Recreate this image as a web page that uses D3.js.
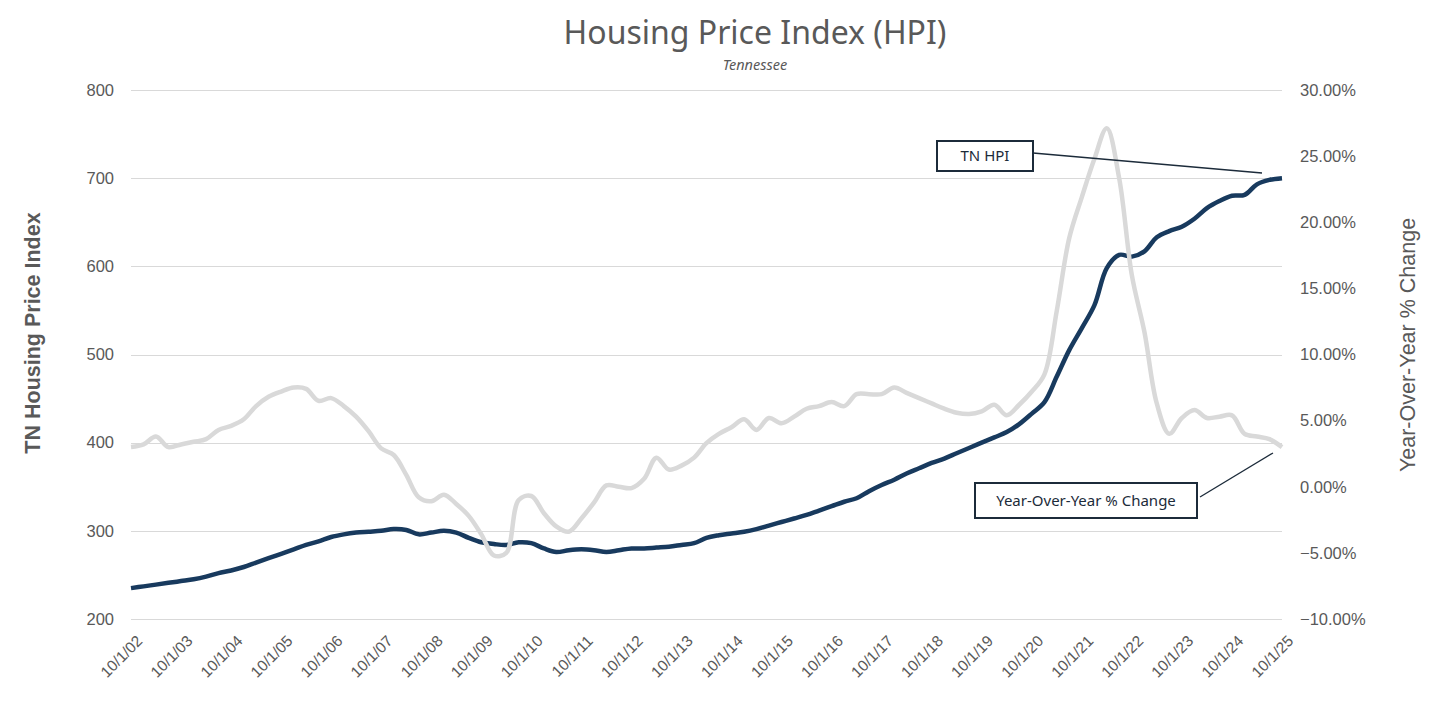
<!DOCTYPE html>
<html>
<head>
<meta charset="utf-8">
<script src="https://cdn.jsdelivr.net/npm/d3@7"></script>
<style>
  body { margin: 0; background: #fff; }
  svg { display: block; }
  .tick-label { font-family: "Liberation Sans", Arial, sans-serif; font-size: 16.5px; fill: #595959; }
  .x-label { font-family: "Liberation Sans", Arial, sans-serif; font-size: 15.5px; fill: #595959; }
</style>
</head>
<body>
<div id="chart"></div>
<script>
// Quarterly observations, first one is 10/1/02, last one is 10/1/25
const firstQuarter = new Date(2002, 9, 1);
const lastQuarter = new Date(2025, 9, 1);

// TN Housing Price Index (left axis)
const hpi = [
  235, 237, 239, 241, 243, 245, 248, 252, 255, 259, 264, 269,
  274, 279, 284, 288, 293, 296, 298, 299, 300, 302, 301, 296,
  298, 300, 298, 292, 287, 285, 284, 287, 286, 280, 276, 278,
  279, 278, 276, 278, 280, 280, 281, 282, 284, 286, 292, 295,
  297, 299, 302, 306, 310, 314, 318, 323, 328, 333, 337, 345,
  352, 358, 365, 371, 377, 382, 388, 394, 400, 406, 412, 421,
  433, 446, 475, 505, 530, 556, 598, 613, 611, 617, 633, 640,
  645, 654, 666, 674, 680, 681, 693, 698, 700
];

// Year-over-year % change (right axis)
const yoy = [
  3.0, 3.2, 3.8, 3.0, 3.2, 3.4, 3.6, 4.3, 4.6, 5.1, 6.1, 6.8,
  7.2, 7.5, 7.4, 6.5, 6.7, 6.1, 5.3, 4.2, 2.9, 2.4, 0.9, -0.8,
  -1.1, -0.6, -1.3, -2.2, -3.6, -5.2, -5.0, -1.0, -0.7, -2.0, -3.0, -3.4,
  -2.4, -1.2, 0.1, 0.0, -0.1, 0.6, 2.2, 1.3, 1.6, 2.2, 3.3, 4.0,
  4.5, 5.1, 4.3, 5.2, 4.8, 5.3, 5.9, 6.1, 6.4, 6.1, 7.0, 7.0,
  7.0, 7.5, 7.1, 6.7, 6.3, 5.9, 5.6, 5.5, 5.7, 6.2, 5.4, 6.2,
  7.2, 8.5, 13.3, 18.8, 21.9, 24.8, 27.1, 23.3, 16.0, 11.7, 6.3, 4.0,
  5.2, 5.8, 5.2, 5.3, 5.4, 4.0, 3.8, 3.6, 3.0
];

const leftTicks = [200, 300, 400, 500, 600, 700, 800];
const rightTicks = [-10, -5, 0, 5, 10, 15, 20, 25, 30];
const xTickLabels = [
  '10/1/02', '10/1/03', '10/1/04', '10/1/05', '10/1/06', '10/1/07', '10/1/08', '10/1/09',
  '10/1/10', '10/1/11', '10/1/12', '10/1/13', '10/1/14', '10/1/15', '10/1/16', '10/1/17',
  '10/1/18', '10/1/19', '10/1/20', '10/1/21', '10/1/22', '10/1/23', '10/1/24', '10/1/25'
];

const width = 1449, height = 703;
const margin = { top: 90, right: 167, bottom: 84, left: 131 };

const parseLabel = d3.timeParse('%m/%d/%y');
const quarters = d3.timeMonth.every(3).range(firstQuarter, d3.timeDay.offset(lastQuarter, 1));
const rows = quarters.map((date, i) => ({ date, hpi: hpi[i], yoy: yoy[i] }));

const svg = d3.select('#chart').append('svg')
  .attr('width', width)
  .attr('height', height);

const x = d3.scaleTime()
  .domain([firstQuarter, lastQuarter])
  .range([margin.left, width - margin.right]);

const yLeft = d3.scaleLinear()
  .domain([200, 800])
  .range([height - margin.bottom, margin.top]);

const yRight = d3.scaleLinear()
  .domain([-10, 30])
  .range([height - margin.bottom, margin.top]);

// Title
svg.append('text')
  .attr('x', 755).attr('y', 44)
  .attr('text-anchor', 'middle')
  .style('font-family', '"Noto Sans", "Open Sans", sans-serif')
  .style('font-size', '32px')
  .style('fill', '#595959')
  .text('Housing Price Index (HPI)');

svg.append('text')
  .attr('x', 755).attr('y', 70)
  .attr('text-anchor', 'middle')
  .style('font-family', '"Noto Sans", "Open Sans", sans-serif')
  .style('font-size', '14.5px')
  .style('font-style', 'italic')
  .style('fill', '#595959')
  .text('Tennessee');

// Gridlines
svg.append('g')
  .selectAll('line')
  .data(leftTicks)
  .join('line')
  .attr('x1', margin.left)
  .attr('x2', width - margin.right)
  .attr('y1', d => Math.round(yLeft(d)) + 0.5)
  .attr('y2', d => Math.round(yLeft(d)) + 0.5)
  .attr('stroke', '#d9d9d9')
  .attr('stroke-width', 1);

// Left axis
const leftAxis = svg.append('g')
  .attr('transform', `translate(${margin.left},0)`)
  .call(d3.axisLeft(yLeft).tickValues(leftTicks).tickSize(0).tickPadding(17));
leftAxis.select('.domain').remove();
leftAxis.selectAll('text').attr('class', 'tick-label');

// Right axis
const rightAxis = svg.append('g')
  .attr('transform', `translate(${width - margin.right},0)`)
  .call(d3.axisRight(yRight).tickValues(rightTicks).tickSize(0).tickPadding(18)
    .tickFormat(d => d3.format('.2f')(d) + '%'));
rightAxis.select('.domain').remove();
rightAxis.selectAll('text').attr('class', 'tick-label');

// Bottom axis, labels turned 45 degrees
const bottomAxis = svg.append('g')
  .attr('transform', `translate(0,${height - margin.bottom})`)
  .call(d3.axisBottom(x).tickValues(xTickLabels.map(parseLabel)).tickSize(0)
    .tickFormat(d3.timeFormat('%-m/%-d/%y')));
bottomAxis.select('.domain').remove();
bottomAxis.selectAll('text')
  .attr('class', 'x-label')
  .attr('text-anchor', 'end')
  .attr('dy', '0.35em')
  .attr('transform', 'translate(6,17) rotate(-45)');

// Axis titles
svg.append('text')
  .attr('transform', 'translate(40,333) rotate(-90)')
  .attr('text-anchor', 'middle')
  .style('font-family', '"Liberation Sans", Arial, sans-serif')
  .style('font-size', '21.5px')
  .style('font-weight', 'bold')
  .style('fill', '#595959')
  .text('TN Housing Price Index');

svg.append('text')
  .attr('transform', 'translate(1415,345) rotate(-90)')
  .attr('text-anchor', 'middle')
  .style('font-family', '"Liberation Sans", Arial, sans-serif')
  .style('font-size', '21.5px')
  .style('fill', '#595959')
  .text('Year-Over-Year % Change');

// Lines
const hpiLine = d3.line()
  .x(d => x(d.date))
  .y(d => yLeft(d.hpi))
  .curve(d3.curveCatmullRom.alpha(0.5));

const yoyLine = d3.line()
  .x(d => x(d.date))
  .y(d => yRight(d.yoy))
  .curve(d3.curveCatmullRom.alpha(0.5));

svg.append('path')
  .datum(rows)
  .attr('d', hpiLine)
  .attr('fill', 'none')
  .attr('stroke', '#183a5e')
  .attr('stroke-width', 4.5)
  .attr('stroke-linejoin', 'round');

svg.append('path')
  .datum(rows)
  .attr('d', yoyLine)
  .attr('fill', 'none')
  .attr('stroke', '#d9d9d9')
  .attr('stroke-width', 4.5)
  .attr('stroke-linejoin', 'round');

// Callouts
const callouts = [
  { text: 'TN HPI', x: 937, y: 141, w: 96, h: 30, from: [1033, 153], to: [1262, 173] },
  { text: 'Year-Over-Year % Change', x: 975, y: 483, w: 222, h: 35, from: [1200, 497], to: [1273, 453] }
];

const callout = svg.append('g')
  .selectAll('g')
  .data(callouts)
  .join('g');

callout.append('line')
  .attr('x1', d => d.from[0]).attr('y1', d => d.from[1])
  .attr('x2', d => d.to[0]).attr('y2', d => d.to[1])
  .attr('stroke', '#1c2b3a')
  .attr('stroke-width', 1.3);

callout.append('rect')
  .attr('x', d => d.x).attr('y', d => d.y)
  .attr('width', d => d.w).attr('height', d => d.h)
  .attr('fill', '#fff')
  .attr('stroke', '#1c2b3a')
  .attr('stroke-width', 2);

callout.append('text')
  .attr('x', d => d.x + d.w / 2)
  .attr('y', d => d.y + d.h / 2)
  .attr('dy', '0.35em')
  .attr('text-anchor', 'middle')
  .style('font-family', '"Noto Sans", "Open Sans", sans-serif')
  .style('font-size', '15px')
  .style('fill', '#1c2b3a')
  .text(d => d.text);
</script>
</body>
</html>
